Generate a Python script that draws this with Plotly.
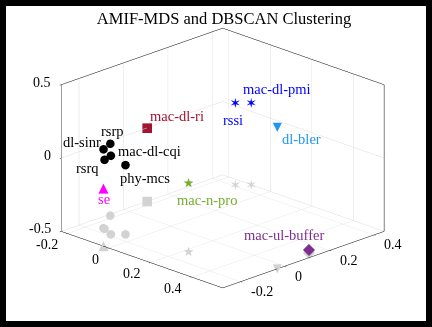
import plotly.graph_objects as go

# ---------------- data ----------------
names = ["rsrp", "dl-sinr", "mac-dl-cqi", "rsrq", "phy-mcs", "mac-dl-ri",
         "mac-dl-pmi", "rssi", "dl-bler", "mac-ul-buffer", "se", "mac-n-pro"]
x_vals = [-0.220, -0.150, -0.090, -0.144, -0.055, -0.229,
          -0.130, -0.092, 0.548, 0.514, -0.026, 0.214]
y_vals = [-0.068, -0.164, -0.187, -0.165, -0.154, 0.106,
          0.410, 0.446, -0.035, 0.139, -0.280, -0.122]
z_vals = [-0.010, 0.038, 0.036, -0.030, -0.028, 0.000,
          0.059, 0.059, 0.466, -0.480, -0.107, -0.031]
cluster = [0, 0, 0, 0, 0, 1, 2, 2, 3, 4, 5, 6]

x_ticks = [-0.2, 0, 0.2, 0.4]
y_ticks = [-0.2, 0, 0.2, 0.4]
z_ticks = [-0.5, 0, 0.5]
z_range = [-0.5, 0.5]
title = "AMIF-MDS and DBSCAN Clustering"

# ---------------- styles ----------------
cluster_style = {
    0: dict(color="#000000", kind="marker", symbol="circle", size=5),
    1: dict(color="#A2142F", kind="marker", symbol="square", size=5),
    2: dict(color="#0000FF", kind="glyph", char="\u2736", size=14),
    3: dict(color="#1E96F5", kind="glyph", char="\u25BC", size=12),
    4: dict(color="#7E2F8E", kind="marker", symbol="diamond", size=4),
    5: dict(color="#FF00FF", kind="glyph", char="\u25B2", size=13),
    6: dict(color="#77AC30", kind="glyph", char="\u2605", size=13),
}
# label placement relative to its point: (x anchor, x shift px, y shift px)
label_style = [("center", 2, 13), ("right", 0, 7), ("left", 5, 5),
               ("right", -3, -8), ("left", -7, -13), ("left", 1, 12),
               ("left", 6, 14), ("right", -6, -17), ("left", 3, -12),
               ("center", -25, 15), ("center", 1, -10), ("center", 19, -17)]
shadow_color = "#D2D2D2"
serif = "Liberation Serif"
tick_font = dict(family=serif, size=14, color="black")

x_range = [min(x_vals), max(x_vals)]
y_range = [min(y_vals), max(y_vals)]

fig = go.Figure()


def add_mark(xx, yy, zz, st, color):
    if st["kind"] == "marker":
        fig.add_trace(go.Scatter3d(
            x=[xx], y=[yy], z=[zz], mode="markers",
            marker=dict(symbol=st["symbol"], size=st["size"], color=color,
                        line=dict(width=0)),
            hoverinfo="skip"))
    else:
        fig.add_trace(go.Scatter3d(
            x=[xx], y=[yy], z=[zz], mode="text", text=[st["char"]],
            textposition="middle center",
            textfont=dict(family="DejaVu Sans", size=st["size"], color=color),
            hoverinfo="skip"))


# shadows on the floor
for i in range(len(names)):
    st = cluster_style[cluster[i]]
    add_mark(x_vals[i], y_vals[i], z_range[0], st, shadow_color)

# points
for i in range(len(names)):
    st = cluster_style[cluster[i]]
    add_mark(x_vals[i], y_vals[i], z_vals[i], st, st["color"])

annotations = []
# point labels (anchored to the data points)
for i in range(len(names)):
    st = cluster_style[cluster[i]]
    anc, dx, dy = label_style[i]
    annotations.append(dict(
        x=x_vals[i], y=y_vals[i], z=z_vals[i], text=names[i],
        showarrow=False, xanchor=anc, yanchor="middle",
        xshift=dx, yshift=dy,
        font=dict(family=serif, size=14.5, color=st["color"])))

# tick labels, anchored at the tick positions on the box edges
for t in x_ticks:
    annotations.append(dict(x=t, y=y_range[0], z=z_range[0], text="%g" % t,
                            showarrow=False, xanchor="right", yanchor="middle",
                            xshift=-7.5, yshift=-11, font=tick_font))
for t in y_ticks:
    annotations.append(dict(x=x_range[1], y=t, z=z_range[0], text="%g" % t,
                            showarrow=False, xanchor="left", yanchor="middle",
                            xshift=8.5, yshift=-10, font=tick_font))
for t in z_ticks:
    annotations.append(dict(x=x_range[0], y=y_range[0], z=t, text="%g" % t,
                            showarrow=False, xanchor="right", yanchor="middle",
                            xshift=-8, yshift=2.5, font=tick_font))


def axis(ticks, rng):
    return dict(
        range=rng, tickvals=ticks, showticklabels=False,
        title=dict(text=""),
        showbackground=False, showgrid=True, gridcolor="#DCDCDC", gridwidth=1,
        showline=True, linecolor="black", linewidth=1, mirror=True,
        ticks="outside", ticklen=2, tickcolor="black",
        zeroline=False, showspikes=False,
    )


center = dict(x=-0.03, y=-0.03, z=-0.037)
view_dir = (1.0, -1.0, 0.529)
fig.update_layout(
    width=432, height=327,
    margin=dict(l=6, r=6, t=6, b=6),
    paper_bgcolor="black",
    showlegend=False,
    title=dict(text=title, x=224 / 432, xref="container", xanchor="center",
               y=1 - 18 / 327, yref="container", yanchor="middle",
               font=dict(family=serif, size=16.5, color="black")),
    scene=dict(
        domain=dict(x=[0, 1], y=[0, 1]),
        bgcolor="white",
        xaxis=axis(x_ticks, x_range),
        yaxis=axis(y_ticks, y_range),
        zaxis=axis(z_ticks, z_range),
        aspectmode="manual",
        aspectratio=dict(x=1.45, y=1.45, z=0.994),
        camera=dict(
            projection=dict(type="orthographic"),
            eye=dict(x=center["x"] + 0.95 * view_dir[0],
                     y=center["y"] + 0.95 * view_dir[1],
                     z=center["z"] + 0.95 * view_dir[2]),
            up=dict(x=0, y=0, z=1),
            center=center,
        ),
        annotations=annotations,
    ),
)

fig.write_html("out.html")
